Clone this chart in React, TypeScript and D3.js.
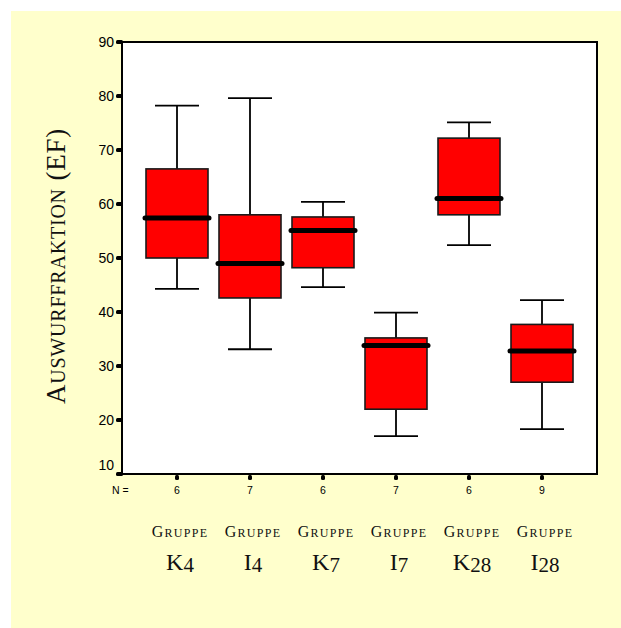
import React from "react";
import * as d3 from "d3";

const categories = ["K4", "I4", "K7", "I7", "K28", "I28"];
const whiskerLow = [44.3, 33.1, 44.6, 17.0, 52.4, 18.3];
const q1 = [50.0, 42.6, 48.2, 22.0, 58.0, 27.0];
const median = [57.4, 49.0, 55.1, 33.8, 61.0, 32.8];
const q3 = [66.5, 58.0, 57.6, 35.2, 72.2, 37.7];
const whiskerHigh = [78.2, 79.6, 60.4, 39.9, 75.1, 42.2];
const nValues = [6, 7, 6, 7, 6, 9];
const yTicks = [10, 20, 30, 40, 50, 60, 70, 80, 90];
const groupWord = "Gruppe";
const yTitleWord = "Auswurffraktion";
const yTitleUnit = "(EF)";

const W = 621;
const H = 628;
const frame = { left: 122, right: 597, top: 42, bottom: 474 };

export default function App() {
  const y = d3.scaleLinear().domain([10, 90]).range([frame.bottom, frame.top]);
  const x = d3.scalePoint<string>().domain(categories).range([177, 542]);
  const boxW = 62;
  const capW = 44;
  const serif = "'Liberation Serif', 'DejaVu Serif', serif";
  const sans = "'Liberation Sans', Arial, sans-serif";

  return (
    <div style={{ position: "absolute", left: 0, top: 0 }}>
      <svg width={W} height={H} style={{ display: "block" }}>
        <rect x={0} y={0} width={W} height={H} fill="#ffffff" />
        <rect x={11} y={11} width={W - 11} height={H - 11} fill="#FFFFCC" />
        <rect
          x={frame.left}
          y={frame.top}
          width={frame.right - frame.left}
          height={frame.bottom - frame.top}
          fill="#ffffff"
          stroke="#000"
          strokeWidth={2}
        />
        {/* y ticks */}
        {yTicks.map((t) => (
          <g key={t}>
            <rect x={116} y={y(t) - 2} width={7} height={4} rx={1.5} fill="#000" />
            <text
              x={114}
              y={y(t) - (t === 10 ? 9 : 0)}
              textAnchor="end"
              dominantBaseline="central"
              fontFamily={sans}
              fontSize={14}
              fill="#000"
            >
              {t}
            </text>
          </g>
        ))}
        {/* bottom ticks and N */}
        <text x={112} y={494} fontFamily={sans} fontSize={10.5} fill="#000">
          N =
        </text>
        {categories.map((c, i) => (
          <g key={"n" + c}>
            <rect x={(x(c) as number) - 2} y={475} width={4} height={5} rx={1.5} fill="#000" />
            <text
              x={x(c) as number}
              y={494}
              textAnchor="middle"
              fontFamily={sans}
              fontSize={10.5}
              fill="#000"
            >
              {nValues[i]}
            </text>
          </g>
        ))}
        {/* boxes */}
        {categories.map((c, i) => {
          const cx = x(c) as number;
          return (
            <g key={c}>
              <line x1={cx} x2={cx} y1={y(whiskerHigh[i])} y2={y(q3[i])} stroke="#000" strokeWidth={1.8} />
              <line x1={cx} x2={cx} y1={y(q1[i])} y2={y(whiskerLow[i])} stroke="#000" strokeWidth={1.8} />
              <line x1={cx - capW / 2} x2={cx + capW / 2} y1={y(whiskerHigh[i])} y2={y(whiskerHigh[i])} stroke="#000" strokeWidth={1.8} />
              <line x1={cx - capW / 2} x2={cx + capW / 2} y1={y(whiskerLow[i])} y2={y(whiskerLow[i])} stroke="#000" strokeWidth={1.8} />
              <rect
                x={cx - boxW / 2}
                y={y(q3[i])}
                width={boxW}
                height={y(q1[i]) - y(q3[i])}
                fill="#FF0000"
                stroke="#1a1a1a"
                strokeWidth={1.6}
              />
              <line
                x1={cx - boxW / 2 - 1}
                x2={cx + boxW / 2 + 1}
                y1={y(median[i])}
                y2={y(median[i])}
                stroke="#000"
                strokeWidth={5}
                strokeLinecap="round"
              />
            </g>
          );
        })}
        {/* group labels */}
        {categories.map((c) => {
          const cx = (x(c) as number) + 3;
          const letter = c.slice(0, 1);
          const digits = c.slice(1);
          return (
            <g key={"lab" + c}>
              <text
                x={cx}
                y={537}
                textAnchor="middle"
                fontFamily={serif}
                letterSpacing={1.3}
                fill="#111"
              >
                <tspan fontSize={16}>{groupWord.slice(0, 1).toUpperCase()}</tspan>
                <tspan fontSize={12}>{groupWord.slice(1).toUpperCase()}</tspan>
              </text>
              <text
                x={cx}
                y={570}
                textAnchor="middle"
                fontFamily={serif}
                fontSize={24}
                fill="#111"
              >
                <tspan>{letter}</tspan>
                <tspan fontSize={21} dy={2}>{digits}</tspan>
              </text>
            </g>
          );
        })}
        {/* y title */}
        <text
          transform={`translate(65, 266) rotate(-90)`}
          textAnchor="middle"
          fontFamily={serif}
          letterSpacing={0.8}
          fill="#111"
        >
          <tspan fontSize={27}>{yTitleWord.slice(0, 1).toUpperCase()}</tspan>
          <tspan fontSize={20}>{yTitleWord.slice(1).toUpperCase()}</tspan>
          <tspan fontSize={27}>{" " + yTitleUnit}</tspan>
        </text>
      </svg>
    </div>
  );
}
